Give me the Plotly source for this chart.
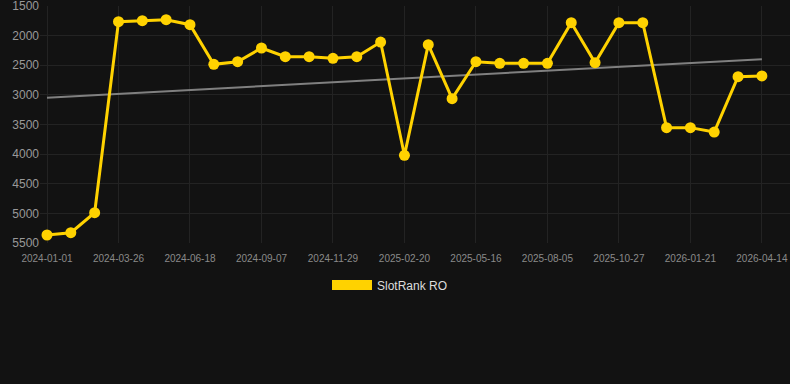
import numpy as np
import plotly.graph_objects as go

dates = [
    "2024-01-01", "2024-01-29", "2024-02-26", "2024-03-26", "2024-04-23", "2024-05-21",
    "2024-06-18", "2024-07-15", "2024-08-11", "2024-09-07", "2024-10-05", "2024-11-01",
    "2024-11-29", "2024-12-27", "2025-01-24", "2025-02-20", "2025-03-20", "2025-04-18",
    "2025-05-16", "2025-06-12", "2025-07-09", "2025-08-05", "2025-09-01", "2025-09-29",
    "2025-10-27", "2025-11-24", "2025-12-23", "2026-01-21", "2026-02-17", "2026-03-17",
    "2026-04-14",
]
rank = [
    5365, 5326, 4988, 1765, 1748, 1731, 1815, 2485, 2440, 2209, 2355, 2355,
    2383, 2355, 2108, 4020, 2153, 3064, 2440, 2468, 2468, 2468, 1781, 2457,
    1781, 1781, 3553, 3553, 3627, 2693, 2681,
]
tick_labels = [
    "2024-01-01", "2024-03-26", "2024-06-18", "2024-09-07", "2024-11-29", "2025-02-20",
    "2025-05-16", "2025-08-05", "2025-10-27", "2026-01-21", "2026-04-14",
]
y_ticks = [1500, 2000, 2500, 3000, 3500, 4000, 4500, 5000, 5500]
series_name = "SlotRank RO"

GOLD = "#FFD200"
BG = "#121212"
GRID = "#232323"

idx = np.arange(len(rank))
slope, intercept = np.polyfit(idx, rank, 1)
trend = slope * idx + intercept

fig = go.Figure()
fig.add_trace(go.Scatter(
    x=dates, y=trend, mode="lines",
    line=dict(color="#808080", width=2),
    showlegend=False, hoverinfo="skip",
))
fig.add_trace(go.Scatter(
    x=dates, y=rank, mode="lines+markers",
    line=dict(color=GOLD, width=3),
    marker=dict(color=GOLD, size=11),
    name=series_name, showlegend=False, legendgroup="r",
))
fig.add_trace(go.Scatter(
    x=[None], y=[None], mode="lines",
    line=dict(color=GOLD, width=11),
    name=series_name, showlegend=True, legendgroup="r",
))

fig.update_layout(
    width=790, height=384,
    paper_bgcolor=BG, plot_bgcolor=BG,
    margin=dict(l=40, r=0, t=6, b=141),
    font=dict(family="Liberation Sans, Arial, sans-serif", color="#999999"),
    showlegend=True,
    legend=dict(
        orientation="h", x=0.5 - 5 / 790, xref="container", xanchor="center",
        y=(384 - 285) / 384, yref="container", yanchor="middle",
        font=dict(size=12, color="#dddddd"),
        itemwidth=40, bgcolor="rgba(0,0,0,0)",
    ),
)
fig.update_xaxes(
    type="category", range=[-0.294, 31.18],
    tickmode="array", tickvals=tick_labels, ticktext=tick_labels,
    showgrid=True, gridcolor=GRID, gridwidth=1,
    zeroline=False, showline=False, ticks="",
    ticklabelstandoff=8, ticklabeloverflow="allow",
    tickfont=dict(size=10, color="#8a8a8a"),
)
fig.update_yaxes(
    range=[5500, 1500],
    tickmode="array", tickvals=y_ticks,
    showgrid=True, gridcolor=GRID, gridwidth=1,
    zeroline=False, showline=False, ticks="",
    ticklabeloverflow="allow",
    tickfont=dict(size=12, color="#999999"),
)

fig.write_html(
    "out.html",
    config={"displayModeBar": False},
    post_script="document.body.style.margin='0';document.body.style.background='#121212';",
)
